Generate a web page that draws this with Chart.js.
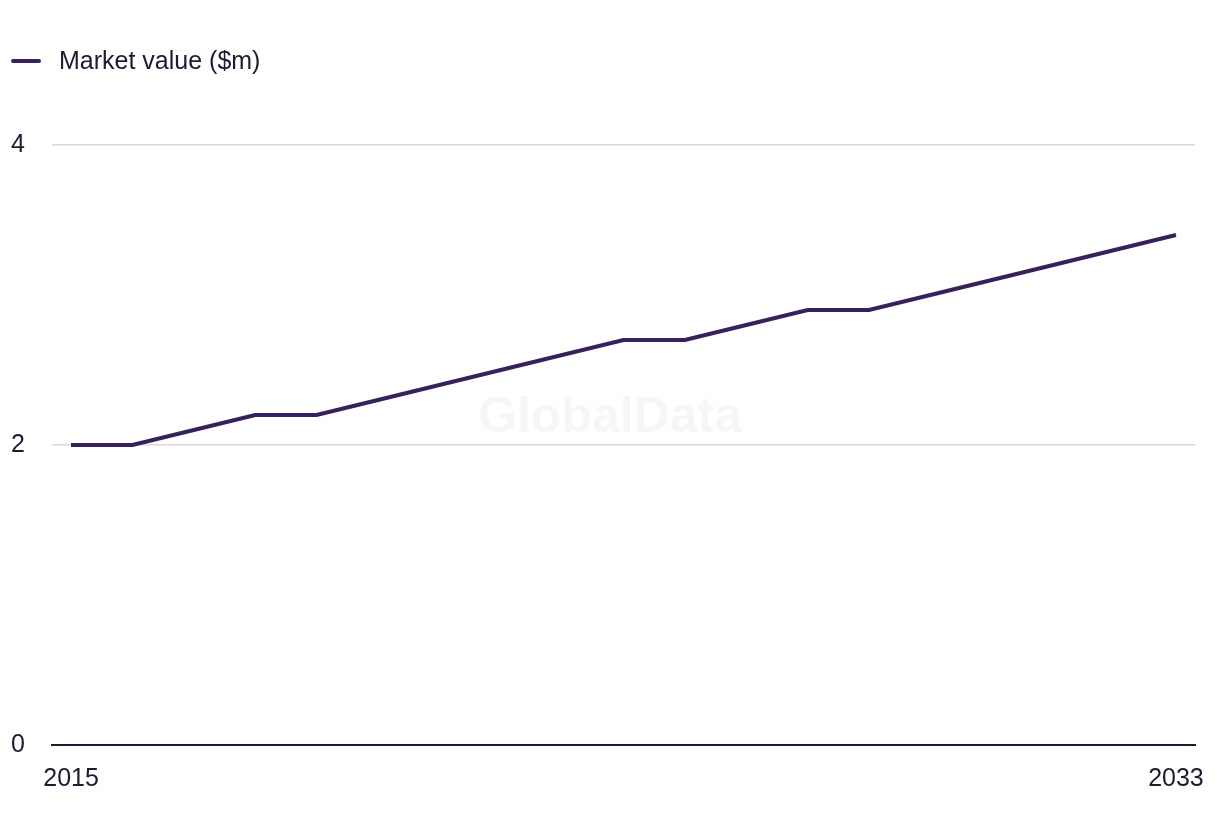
<!DOCTYPE html>
<html>
<head>
<meta charset="utf-8">
<script src="https://cdn.jsdelivr.net/npm/chart.js@4/dist/chart.umd.min.js"></script>
<style>
  body { margin: 0; background: #fff; font-family: "Liberation Sans", Arial, sans-serif; }
  #wrap { position: relative; width: 1220px; height: 836px; }
  #legend { position: absolute; left: 11px; top: 46px; display: flex; align-items: center; color: #1c1b33; font-size: 25px; }
  #legend .swatch { width: 30px; height: 4px; background: #36225a; border-radius: 2px; margin-right: 18px; }
</style>
</head>
<body>
<div id="wrap">
  <canvas id="marketChart" width="1220" height="836"></canvas>
  <div id="legend"><span class="swatch"></span><span>Market value ($m)</span></div>
</div>
<script>
const years = [2015, 2016, 2017, 2018, 2019, 2020, 2021, 2022, 2023, 2024, 2025, 2026, 2027, 2028, 2029, 2030, 2031, 2032, 2033];
const marketValues = [2.0, 2.0, 2.1, 2.2, 2.2, 2.3, 2.4, 2.5, 2.6, 2.7, 2.7, 2.8, 2.9, 2.9, 3.0, 3.1, 3.2, 3.3, 3.4];
const xTickYears = [2015, 2033];
const yTickValues = [0, 2, 4];
const seriesLabel = 'Market value ($m)';

const textColor = '#1c1b33';
const lineColor = '#36225a';

// faint watermark behind the line
const watermark = {
  id: 'watermark',
  beforeDatasetsDraw(chart) {
    const { ctx } = chart;
    ctx.save();
    ctx.font = 'bold 50px "Liberation Sans", Arial, sans-serif';
    ctx.fillStyle = 'rgba(0, 0, 0, 0.035)';
    ctx.textAlign = 'center';
    ctx.textBaseline = 'middle';
    ctx.fillText('GlobalData', 610, 418);
    ctx.restore();
  },
};

new Chart(document.getElementById('marketChart'), {
  type: 'line',
  data: {
    datasets: [
      {
        label: seriesLabel,
        data: years.map((y, i) => ({ x: y, y: marketValues[i] })),
        borderColor: lineColor,
        backgroundColor: lineColor,
        borderWidth: 4,
        pointRadius: 0,
        tension: 0,
      },
    ],
  },
  options: {
    responsive: false,
    animation: false,
    layout: { padding: { top: 145, left: 11, right: 25, bottom: 23 } },
    plugins: {
      legend: { display: false },
      tooltip: { enabled: false },
    },
    scales: {
      x: {
        type: 'linear',
        min: 2014.69,
        max: 2033.31,
        afterBuildTicks: (axis) => { axis.ticks = xTickYears.map((v) => ({ value: v })); },
        // labels may hang past the plot edge, as in the original
        afterFit: (axis) => { axis.paddingLeft = 0; axis.paddingRight = 0; },
        ticks: {
          color: textColor,
          font: { size: 25, family: '"Liberation Sans", Arial, sans-serif' },
          padding: 19,
          maxRotation: 0,
          callback: (v) => String(v),
        },
        grid: { display: false, drawTicks: false },
        border: { display: true, color: textColor, width: 2 },
      },
      y: {
        min: 0,
        max: 4,
        afterBuildTicks: (axis) => { axis.ticks = yTickValues.map((v) => ({ value: v })); },
        afterFit: (axis) => { axis.width = 41; },
        ticks: {
          color: textColor,
          font: { size: 25, family: '"Liberation Sans", Arial, sans-serif' },
          crossAlign: 'far',
          padding: 0,
        },
        grid: { color: '#d9d9d9', lineWidth: 1.5, drawTicks: false },
        border: { display: false },
      },
    },
  },
  plugins: [watermark],
});
</script>
</body>
</html>
